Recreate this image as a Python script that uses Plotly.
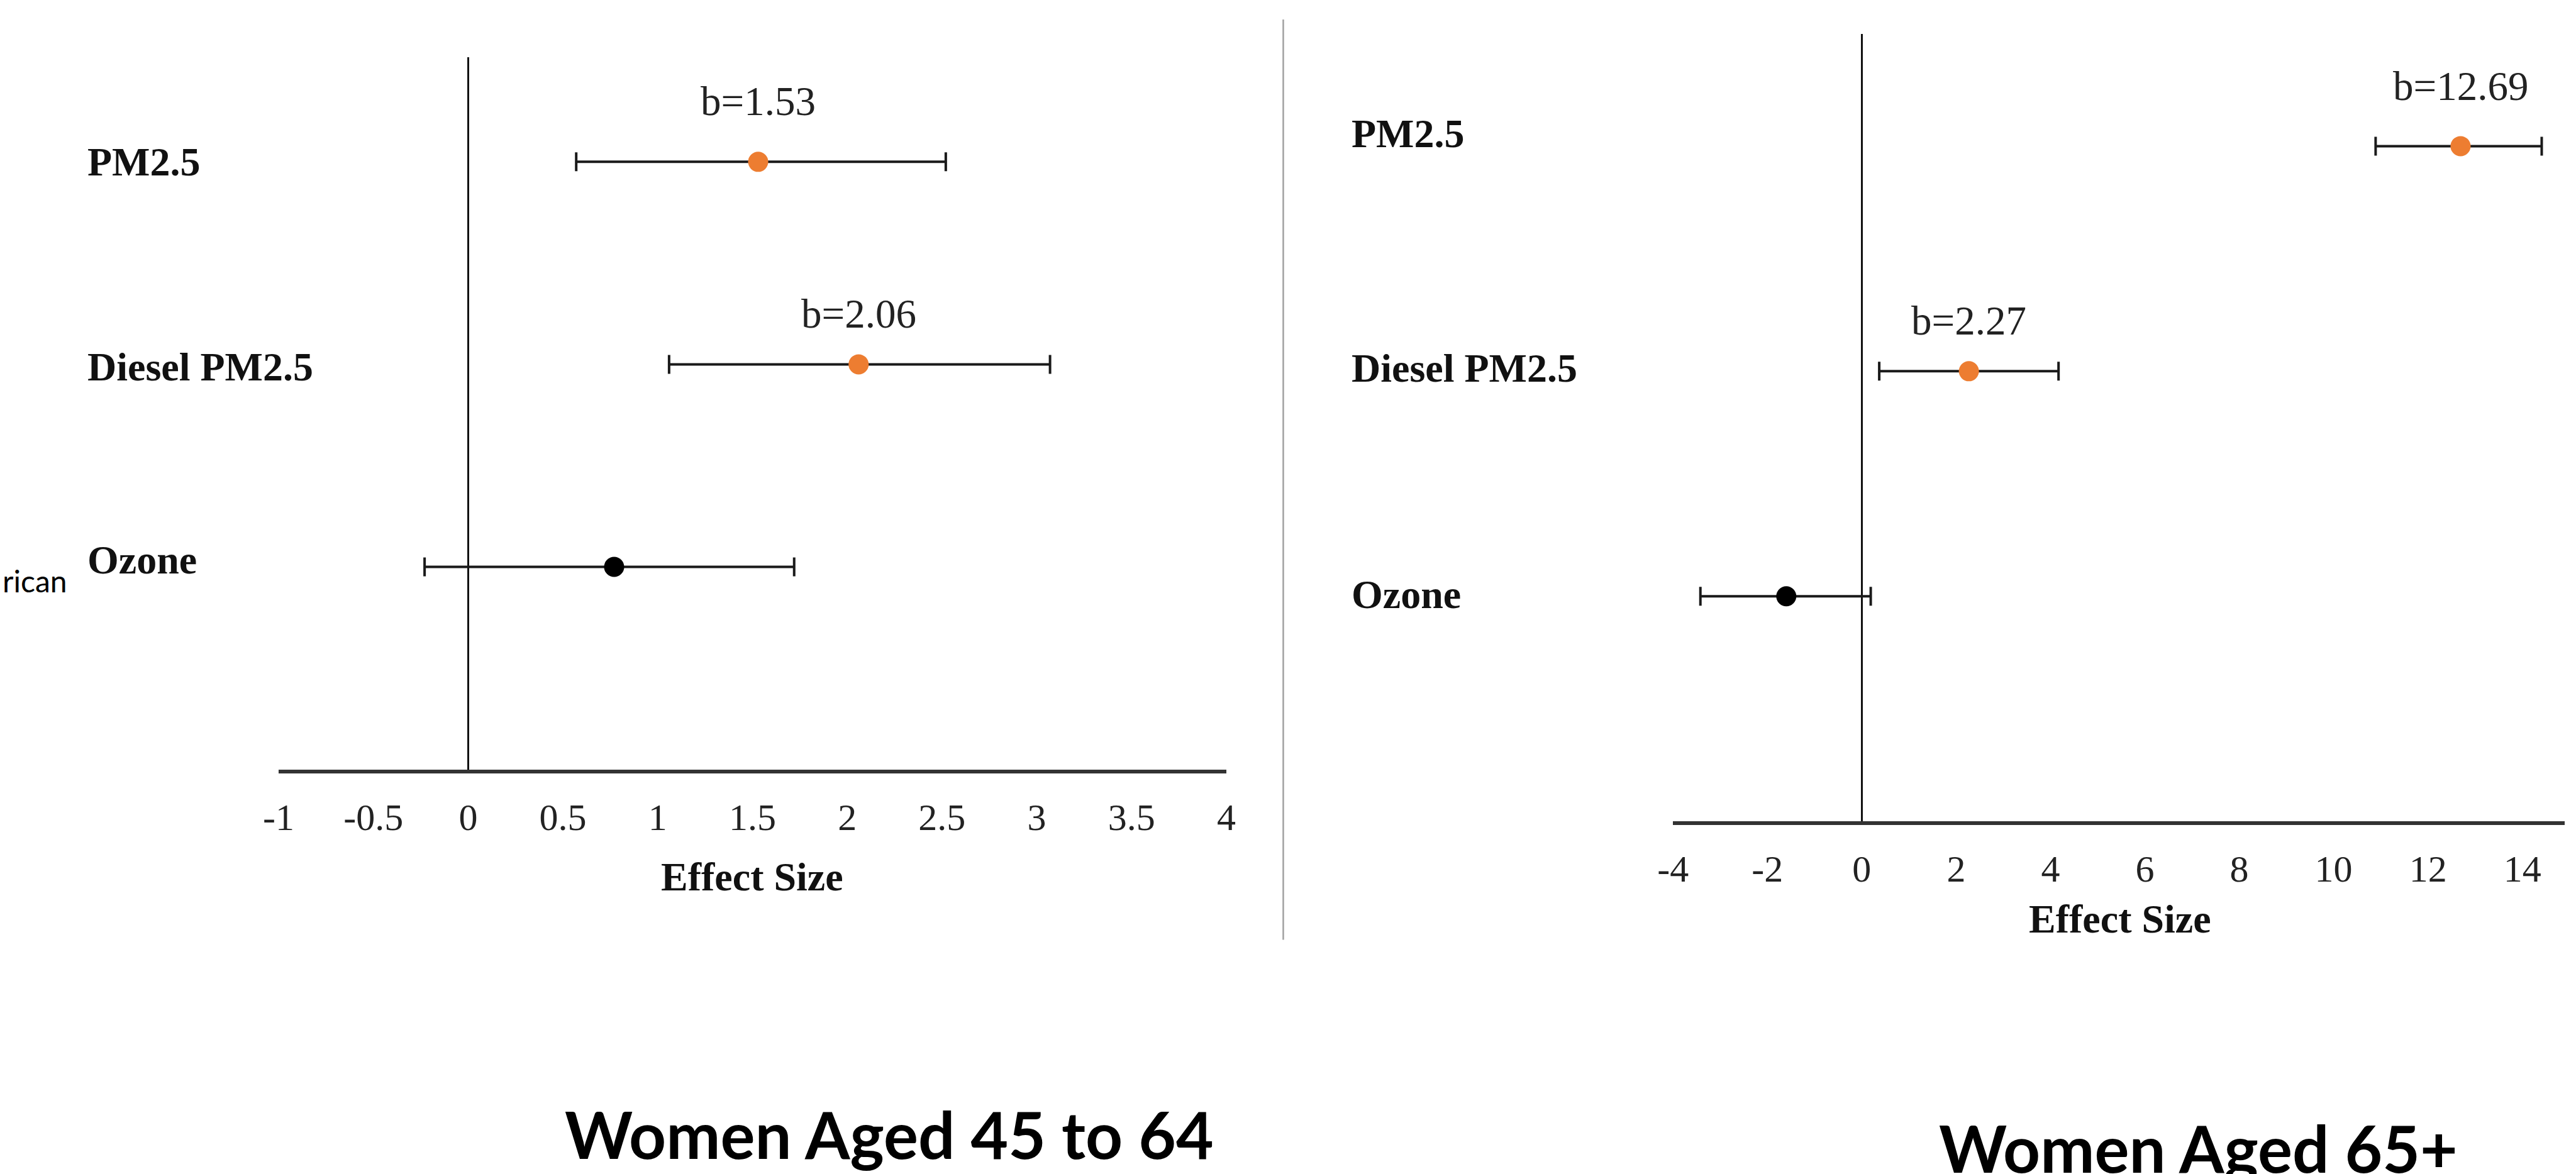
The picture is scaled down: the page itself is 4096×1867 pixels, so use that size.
import plotly.graph_objects as go

W, H = 4096, 1867
S = 4096 / 4613  # scale from reference pixels

# ---------------- data ----------------
categories = ["PM2.5", "Diesel PM2.5", "Ozone"]

est_4564 = [1.53, 2.06, 0.77]
low_4564 = [0.57, 1.06, -0.23]
up_4564 = [2.52, 3.07, 1.72]
lab_4564 = ["b=1.53", "b=2.06", None]

est_65 = [12.69, 2.27, -1.60]
low_65 = [10.89, 0.37, -3.42]
up_65 = [14.41, 4.17, 0.19]
lab_65 = ["b=12.69", "b=2.27", None]

ticks_4564 = [-1, -0.5, 0, 0.5, 1, 1.5, 2, 2.5, 3, 3.5, 4]
ticktext_4564 = ["-1", "-0.5", "0", "0.5", "1", "1.5", "2", "2.5", "3", "3.5", "4"]
ticks_65 = [-4, -2, 0, 2, 4, 6, 8, 10, 12, 14]
ticktext_65 = ["-4", "-2", "0", "2", "4", "6", "8", "10", "12", "14"]

titles = ["Women Aged 45 to 64", "Women Aged 65+"]
axis_title = "Effect Size"
cut_text = "rican"

ORANGE = "#ED7D31"
marker_colors = [ORANGE, ORANGE, "#000000"]

SERIF = "Liberation Serif, Times New Roman, serif"
SANS = "Lato, Open Sans, sans-serif"


def px_x(v):
    return v * S / W


def px_y(v):
    return 1 - v * S / H


fig = go.Figure()

for est, low, up, xa, ya in [
    (est_4564, low_4564, up_4564, "x", "y"),
    (est_65, low_65, up_65, "x2", "y2"),
]:
    fig.add_trace(
        go.Scatter(
            x=est,
            y=categories,
            mode="markers",
            xaxis=xa,
            yaxis=ya,
            marker=dict(size=32, color=marker_colors, line=dict(width=0)),
            error_x=dict(
                type="data",
                symmetric=False,
                array=[u - e for u, e in zip(up, est)],
                arrayminus=[e - l for e, l in zip(est, low)],
                color="#1a1a1a",
                thickness=4,
                width=15,
            ),
            showlegend=False,
            hoverinfo="skip",
        )
    )

common_x = dict(
    showgrid=False,
    showline=True,
    linecolor="#333333",
    linewidth=6,
    zeroline=True,
    zerolinecolor="#111111",
    zerolinewidth=2.5,
    ticks="",
    tickmode="array",
    tickfont=dict(family=SERIF, size=60, color="#222222"),
    ticklabelstandoff=18,
    automargin=False,
    fixedrange=True,
)
common_y = dict(
    type="category",
    categoryorder="array",
    categoryarray=categories,
    showgrid=False,
    showline=False,
    zeroline=False,
    showticklabels=False,
    ticks="",
    automargin=False,
    fixedrange=True,
)

fig.update_layout(
    width=W,
    height=H,
    autosize=False,
    margin=dict(l=0, r=0, t=0, b=0, pad=0),
    paper_bgcolor="white",
    plot_bgcolor="white",
    showlegend=False,
    xaxis=dict(
        common_x,
        domain=[px_x(499), px_x(2196)],
        anchor="y",
        range=[-1, 4],
        tickvals=ticks_4564,
        ticktext=ticktext_4564,
    ),
    yaxis=dict(
        common_y,
        domain=[px_y(1378), px_y(103)],
        anchor="x",
        range=[3.0, -0.515],
    ),
    xaxis2=dict(
        common_x,
        domain=[px_x(2996), px_x(4593)],
        anchor="y2",
        range=[-4, 14.9],
        tickvals=ticks_65,
        ticktext=ticktext_65,
    ),
    yaxis2=dict(
        common_y,
        domain=[px_y(1471), px_y(61)],
        anchor="x2",
        range=[3.0, -0.498],
    ),
)

annotations = []

# category labels (left-aligned, far left of each panel)
label_x = [px_x(154), px_x(2418)]
label_shift = [[0, -5, 12], [22, 5, 3]]
for p, ya in enumerate(["y", "y2"]):
    for i, c in enumerate(categories):
        annotations.append(
            dict(
                text="<b>%s</b>" % c,
                xref="paper",
                yref=ya,
                x=label_x[p],
                y=c,
                xanchor="left",
                yanchor="middle",
                yshift=label_shift[p][i] * S,
                showarrow=False,
                font=dict(family=SERIF, size=64, color="#111111"),
            )
        )

# b= labels above points
b_shift = [108, 91, 0]
for est, labs, xa, ya in [
    (est_4564, lab_4564, "x", "y"),
    (est_65, lab_65, "x2", "y2"),
]:
    for i, (e, t) in enumerate(zip(est, labs)):
        if t is None:
            continue
        annotations.append(
            dict(
                text=t,
                xref=xa,
                yref=ya,
                x=e,
                y=categories[i],
                xanchor="center",
                yanchor="middle",
                yshift=b_shift[i] * S,
                showarrow=False,
                font=dict(family=SERIF, size=65, color="#222222"),
            )
        )

# axis titles
for xc, yc in [(1347, 1571), (3797, 1646)]:
    annotations.append(
        dict(
            text="<b>%s</b>" % axis_title,
            xref="paper",
            yref="paper",
            x=px_x(xc),
            y=px_y(yc),
            xanchor="center",
            yanchor="middle",
            showarrow=False,
            font=dict(family=SERIF, size=64, color="#111111"),
        )
    )

# panel titles (bottom)
for t, xc, yc in [(titles[0], 1593, 2031), (titles[1], 3937, 2055)]:
    annotations.append(
        dict(
            text="<b>%s</b>" % t,
            xref="paper",
            yref="paper",
            x=px_x(xc),
            y=px_y(yc),
            xanchor="center",
            yanchor="middle",
            showarrow=False,
            font=dict(family=SANS, size=103, color="#000000"),
        )
    )

# cut-off text at far left
annotations.append(
    dict(
        text=cut_text,
        xref="paper",
        yref="paper",
        x=px_x(2),
        y=px_y(1040),
        xanchor="left",
        yanchor="middle",
        showarrow=False,
        font=dict(family=SANS, size=48, color="#000000"),
    )
)

fig.update_layout(annotations=annotations)

# divider between panels
fig.add_shape(
    type="line",
    xref="paper",
    yref="paper",
    x0=px_x(2298),
    x1=px_x(2298),
    y0=px_y(35),
    y1=px_y(1683),
    line=dict(color="#a0a0a0", width=2.5),
)

fig.write_html(
    "out.html",
    config={"displayModeBar": False},
    post_script="document.body.style.margin='0px';",
)
